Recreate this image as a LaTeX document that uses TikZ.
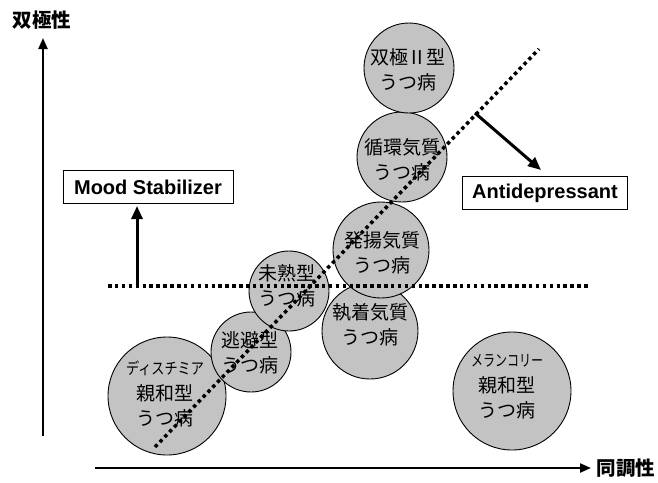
\documentclass[tikz,border=0pt]{standalone}
\usepackage{fontspec}
\setmainfont{Liberation Sans}
\newfontfamily\jp{Noto Sans CJK JP}
\usetikzlibrary{arrows.meta}
\definecolor{circfill}{RGB}{195,195,195}
\begin{document}
\begin{tikzpicture}[x=1pt,y=-1pt,
  circ/.style={circle,draw=black,line width=0.9pt,fill=circfill,inner sep=0pt},
  jtext/.style={align=center,font=\jp\fontsize{19}{25.5}\selectfont,inner sep=0pt},
  dotline/.style={line width=3.5pt,dash pattern=on 3.5pt off 3.4pt},
  axisarrow/.style={line width=2.2pt,-{Triangle[length=11pt,width=9pt]}},
  thickarrow/.style={line width=3pt,-{Triangle[length=13pt,width=11pt]}},
  labelbox/.style={draw=black,line width=0.9pt,fill=white,font=\bfseries\fontsize{20}{22}\selectfont,inner sep=0pt,minimum height=33pt},
  axislabel/.style={font=\jp\bfseries\fontsize{19.5}{19.5}\selectfont,inner sep=0pt}]
\useasboundingbox (0,0) rectangle (658,482);

% axes
\coordinate (yb) at (43,436);
\coordinate (yt) at (43,38);
\draw[axisarrow] (yb) -- (yt);
\coordinate (xb) at (95,468);
\coordinate (xt) at (591,468);
\draw[axisarrow] (xb) -- (xt);
\node[axislabel] (ylab) at (42,20) {双極性};
\node[axislabel] (xlab) at (626,468) {同調性};

% circles
\node[circ,minimum size=118pt] (dys) at (167,396) {};
\node[circ,minimum size=80pt] (tohi) at (251,352) {};
\node[circ,minimum size=80pt] (mijuku) at (289,291) {};
\node[circ,minimum size=96pt] (shuchaku) at (370,331) {};
\node[circ,minimum size=96pt] (hatsuyo) at (381,250) {};
\node[circ,minimum size=90pt] (junkan) at (402,157) {};
\node[circ,minimum size=90pt] (sokyoku) at (409,68) {};
\node[circ,minimum size=118pt] (melan) at (512,391) {};

% circle texts
\node[jtext] (tsokyoku) at (408,70) {双極\,II\,型\\うつ病};
\node[jtext] (tjunkan) at (402,160) {循環気質\\うつ病};
\node[jtext] (thatsuyo) at (382,253) {発揚気質\\うつ病};
\node[jtext] (tshuchaku) at (370,325) {執着気質\\うつ病};
\node[jtext] (tmijuku) at (287,286) {未熟型\\うつ病};
\node[jtext] (ttohi) at (250,353) {逃避型\\うつ病};
\node[jtext] (tdys) at (165,394) {\scalebox{0.82}[1]{\fontsize{16}{16}\selectfont ディスチミア}\\親和型\\うつ病};
\node[jtext] (tmelan) at (507,387) {\scalebox{0.75}[1]{\fontsize{16}{16}\selectfont メランコリー}\\親和型\\うつ病};

% dotted lines
\coordinate (dA) at (155,447);
\coordinate (dB) at (539,49);
\draw[dotline] (dA) -- (dB);
\coordinate (hA) at (108,286);
\coordinate (hB) at (588,286);
\draw[dotline] (hA) -- (hB);

% boxes and arrows
\node[labelbox,minimum width=170pt] (ms) at (148,187) {Mood Stabilizer};
\node[labelbox,minimum width=165pt] (ad) at (545,193) {Antidepressant};
\coordinate (msfrom) at (137,286);
\coordinate (msto) at (137,206);
\draw[thickarrow] (msfrom) -- (msto);
\coordinate (adfrom) at (475,113);
\coordinate (adto) at (541,170);
\draw[thickarrow] (adfrom) -- (adto);
\end{tikzpicture}
\end{document}
